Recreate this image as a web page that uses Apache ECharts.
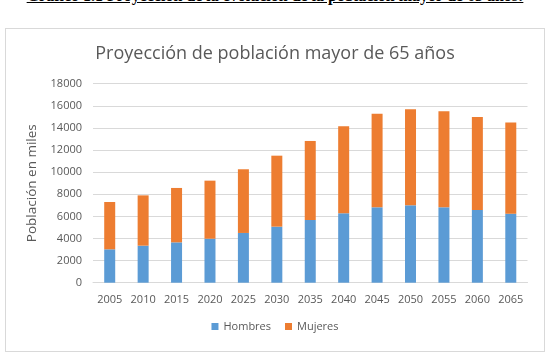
<!DOCTYPE html>
<html>
<head>
<meta charset="utf-8">
<script src="https://cdn.jsdelivr.net/npm/echarts@6/dist/echarts.min.js"></script>
<style>
  html, body { margin: 0; padding: 0; background: #fff; }
  .page { position: relative; width: 550px; height: 353px; overflow: hidden; }
  .caption {
    position: absolute; left: 0; width: 550px; top: -13px; line-height: 18px;
    text-align: center; font-family: "Liberation Serif", serif; white-space: nowrap;
    font-weight: bold; font-size: 16px; text-decoration: underline; color: #000;
  }
  .box {
    position: absolute; left: 5px; top: 28px; width: 538px; height: 322px;
    border: 1px solid #d9d9d9; box-sizing: content-box;
  }
  #main { position: absolute; left: 0; top: 0; width: 550px; height: 353px; }
</style>
</head>
<body>
<div class="page">
  <div class="caption">Gráfico 1.1 Proyección de la evolución de la población mayor de 65 años:</div>
  <div class="box"></div>
  <div id="main"></div>
</div>
<script>
// años de la proyección
var years = ["2005", "2010", "2015", "2020", "2025", "2030", "2035", "2040", "2045", "2050", "2055", "2060", "2065"];
// miles de personas
var hombres = [3020, 3350, 3650, 3980, 4500, 5070, 5670, 6280, 6820, 7000, 6820, 6580, 6240];
var mujeres = [4280, 4550, 4920, 5250, 5760, 6420, 7150, 7870, 8470, 8690, 8680, 8410, 8240];

var grey = "#595959";
var font = "Open Sans";

var chart = echarts.init(document.getElementById("main"));
chart.setOption({
  animation: false,
  title: {
    text: "Proyección de población mayor de 65 años",
    left: "center",
    top: 40,
    textStyle: { fontFamily: font, fontSize: 18, fontWeight: "normal", color: grey },
  },
  legend: {
    data: ["Hombres", "Mujeres"],
    bottom: 16,
    left: "center",
    itemWidth: 7,
    itemHeight: 7,
    itemGap: 14,
    icon: "rect",
    textStyle: { fontFamily: font, fontSize: 11, color: grey },
  },
  grid: { left: 93, right: 22.5, top: 83.7, bottom: 70.3 },
  xAxis: {
    type: "category",
    data: years,
    axisLine: { lineStyle: { color: "#d9d9d9" } },
    axisTick: { show: false },
    axisLabel: { interval: 0, color: grey, fontFamily: font, fontSize: 11, margin: 12 },
  },
  yAxis: {
    type: "value",
    min: 0,
    max: 18000,
    interval: 2000,
    name: "Población en miles",
    nameLocation: "middle",
    nameGap: 54,
    nameTextStyle: { fontFamily: font, fontSize: 13.5, color: grey },
    axisLine: { show: false },
    axisTick: { show: false },
    axisLabel: {
      color: grey, fontFamily: font, fontSize: 11, margin: 11,
      formatter: function (v) { return String(v); },
    },
    splitLine: { lineStyle: { color: "#d9d9d9" } },
  },
  series: [
    {
      name: "Hombres",
      type: "bar",
      stack: "total",
      barWidth: 11,
      itemStyle: { color: "#5b9bd5" },
      data: hombres,
    },
    {
      name: "Mujeres",
      type: "bar",
      stack: "total",
      barWidth: 11,
      itemStyle: { color: "#ed7d31" },
      data: mujeres,
    },
  ],
});
</script>
</body>
</html>
